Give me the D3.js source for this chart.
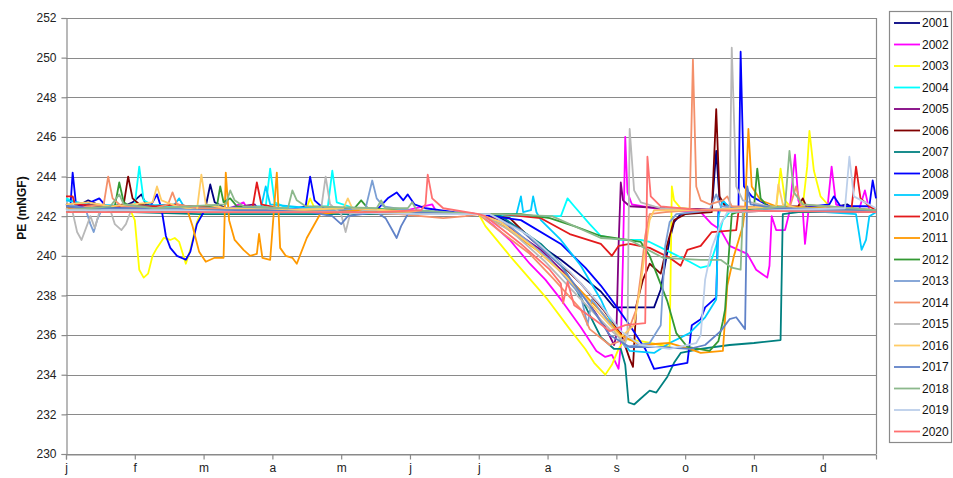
<!DOCTYPE html>
<html>
<head>
<meta charset="utf-8">
<script src="https://cdn.jsdelivr.net/npm/d3@7"></script>
<style>
  html, body { margin: 0; padding: 0; background: #fff; }
  svg { display: block; font-family: "Liberation Sans", Arial, sans-serif; }
</style>
</head>
<body>
<svg id="chart" width="953" height="478"></svg>
<script>
// Daily water level PE (mNGF) by year, as [day of year, level] points.
const monthLabels = ["j", "f", "m", "a", "m", "j", "j", "a", "s", "o", "n", "d"];
const yTicks = [230, 232, 234, 236, 238, 240, 242, 244, 246, 248, 250, 252];
const years = ["2001","2002","2003","2004","2005","2006","2007","2008","2009","2010",
               "2011","2012","2013","2014","2015","2016","2017","2018","2019","2020"];
const palette = ["#000080","#ff00ff","#ffff00","#00ffff","#800080","#800000","#008080","#0000ff","#00ccff","#e31a1c",
                 "#ff9900","#339933","#7b9fd4","#f4906a","#b8b8b8","#ffcc66","#6082c8","#8cb88c","#bccfea","#ff7070"];

const pe2001 = [[0,242.6],[5,242.5],[10,242.8],[14,242.6],[20,242.5],[26,242.5],[30,242.7],[34,243.1],[36,242.6],[45,242.4],[55,242.4],[63,242.5],[65,243.6],[67,242.7],[72,242.4],[90,242.3],[110,242.3],[130,242.2],[150,242.2],[170,242.1],[186,242.1],[196,241.9],[205,241.3],[214,240.5],[223,239.8],[232,239.0],[241,238.2],[247,237.4],[256,237.4],[265,237.4],[268,238.3],[270,239.6],[272,240.8],[274,241.7],[277,242.1],[285,242.2],[291,242.3],[293,245.3],[294.5,242.8],[300,242.4],[320,242.3],[340,242.3],[352,242.6],[356,242.3],[365,242.2]];
const pe2002 = [[0,242.4],[10,242.3],[20,242.5],[30,242.3],[50,242.3],[70,242.2],[80,242.7],[82,242.3],[100,242.2],[130,242.2],[150,242.2],[165,242.6],[167,242.2],[186,242.1],[192,241.6],[200,240.8],[209,239.6],[216,238.8],[223,237.8],[232,236.4],[239,235.2],[243,234.9],[246,235.0],[249,234.3],[250,235.5],[251,240.0],[252,246.0],[253,243.2],[255,242.6],[270,242.3],[286,242.2],[291,241.6],[295,241.3],[299,240.5],[307,240.1],[311,239.3],[316,238.9],[317,239.5],[318,242.0],[320,241.3],[324,241.3],[326,242.2],[328.5,245.1],[330,242.8],[332,242.3],[333,240.6],[334.5,242.2],[343,242.3],[345,244.5],[347,242.6],[357,242.2],[360,243.3],[362,242.3],[365,242.2]];
const pe2003 = [[0,242.5],[10,242.4],[20,242.4],[29,242.3],[31,241.8],[33,239.3],[35,238.9],[37,239.1],[39,240.0],[41,240.4],[44,240.9],[47,240.8],[49,240.9],[51,240.7],[54,239.6],[56,240.3],[59,241.7],[61,242.2],[63,242.4],[80,242.3],[100,242.3],[108,242.3],[110,242.9],[112,242.4],[130,242.2],[150,242.2],[165,242.1],[186,242.1],[189,241.5],[200,240.0],[217,237.8],[227,236.3],[234,235.3],[238,234.6],[243,234.0],[246,234.5],[249,235.3],[252,235.8],[259,235.7],[268,235.5],[272,235.4],[273,243.5],[274,242.8],[277,242.4],[290,242.3],[310,242.3],[320,242.4],[322,244.4],[324,242.8],[327,242.4],[332,242.5],[334,244.5],[335,246.3],[337,244.3],[340,243.0],[344,242.5],[365,242.3]];
const pe2004 = [[0,242.9],[5,242.7],[15,242.5],[25,242.5],[31,242.6],[33,244.5],[35,242.8],[40,242.5],[60,242.4],[80,242.4],[90,242.5],[92,244.4],[94,242.7],[100,242.4],[118,242.5],[120,244.3],[122,242.7],[130,242.4],[150,242.3],[170,242.2],[186,242.1],[205,242.0],[223,242.0],[226,242.9],[229,242.5],[236,241.6],[241,241.0],[250,240.8],[259,240.8],[263,240.7],[272,240.2],[281,239.7],[286,239.4],[290,239.5],[293,240.5],[296,241.8],[299,242.2],[320,242.3],[340,242.3],[365,242.2]];
const pe2005 = [[0,242.4],[20,242.3],[40,242.3],[60,242.2],[85,242.6],[87,242.3],[120,242.2],[150,242.2],[186,242.1],[196,241.8],[205,241.0],[214,240.3],[223,239.3],[232,238.2],[243,236.4],[247,235.5],[248,236.0],[249,240.5],[250,243.7],[251,242.8],[254,242.5],[270,242.4],[300,242.3],[330,242.3],[365,242.2]];
const pe2006 = [[0,242.5],[10,242.4],[20,242.5],[26,242.6],[28,244.0],[30,242.9],[33,242.6],[45,242.4],[70,242.3],[100,242.3],[130,242.2],[160,242.2],[186,242.1],[200,241.9],[209,240.9],[221,239.8],[232,238.6],[242,237.3],[250,236.1],[254,234.8],[255.5,234.4],[257,237.5],[260,238.8],[263,239.6],[268,239.1],[271,240.6],[274,241.8],[279,242.1],[291,242.2],[293,247.4],[294.5,243.0],[297,242.5],[310,242.4],[330,242.5],[332,242.9],[334,242.4],[365,242.3]];
const pe2007 = [[0,242.2],[30,242.2],[60,242.1],[100,242.1],[150,242.1],[186,242.1],[196,242.0],[205,241.3],[214,240.6],[223,239.6],[232,237.9],[241,235.9],[247,235.3],[250,235.3],[252,234.5],[253.5,232.6],[256,232.5],[259,232.8],[263,233.2],[266,233.1],[271,233.9],[274,234.6],[277,235.1],[286,235.3],[299,235.5],[310,235.6],[322,235.75],[323,242.1],[330,242.2],[365,242.2]];
const pe2008 = [[0,242.6],[2,242.5],[3,244.2],[4.5,242.6],[8,242.5],[11,242.7],[15,242.9],[18,242.5],[25,242.4],[38,242.5],[41,243.1],[43,242.4],[45,241.0],[47,240.4],[50,240.0],[54,239.8],[56,240.2],[59,241.6],[62,242.2],[80,242.3],[100,242.3],[108,242.5],[110,244.0],[112,242.8],[116,242.4],[140,242.3],[145,242.9],[149,243.2],[152,242.8],[154,243.1],[157,242.6],[162,242.4],[175,242.2],[186,242.1],[205,241.8],[223,240.6],[234,239.4],[241,238.5],[247,237.6],[254,236.5],[261,235.3],[265,234.3],[270,234.4],[280,234.6],[282,236.5],[286,236.8],[288,237.4],[293,237.9],[294,242.3],[301,242.4],[303,242.2],[304,250.3],[305.5,243.5],[309,243.0],[317,242.5],[330,242.4],[344,242.6],[346,243.0],[349,242.5],[362,242.5],[363.5,243.8],[365,242.9]];
const pe2009 = [[0,242.8],[10,242.6],[30,242.5],[49,242.6],[51,242.9],[53,242.5],[70,242.4],[88,242.5],[90,243.5],[92,242.6],[110,242.4],[130,242.3],[160,242.2],[186,242.1],[203,242.1],[205,243.0],[206,242.2],[209.5,242.3],[210.5,243.0],[212,242.2],[214,241.8],[223,240.8],[232,239.5],[241,237.8],[247,236.3],[254,235.2],[265,235.1],[272,235.6],[281,236.1],[288,236.9],[293,237.8],[294,242.0],[296,242.8],[300,242.3],[330,242.3],[356,242.1],[358.5,240.3],[360.5,240.8],[362,242.0],[365,242.2]];
const pe2010 = [[0,243.0],[3,243.0],[4,242.6],[20,242.5],[40,242.5],[50,242.6],[55,242.5],[75,242.4],[84,242.4],[86,243.7],[88,242.6],[100,242.3],[130,242.3],[160,242.2],[186,242.1],[196,242.1],[214,241.9],[227,241.1],[241,240.6],[246,240.0],[249,240.5],[254,240.6],[263,240.4],[272,239.9],[277,239.5],[280,240.3],[286,240.5],[291,241.2],[302,241.3],[303,242.2],[320,242.3],[340,242.3],[354,242.4],[356,244.5],[358,242.9],[362,242.5],[365,242.3]];
const pe2011 = [[0,242.4],[20,242.3],[40,242.3],[55,242.2],[57,241.5],[60,240.2],[63,239.7],[67,239.9],[71,239.9],[72,244.2],[73.5,241.8],[76,240.8],[80,240.3],[83,240.0],[86,240.1],[87,241.1],[88.5,239.9],[92,239.8],[95,244.2],[96.5,240.4],[99,240.0],[102,239.9],[104,239.6],[108.5,240.9],[114.5,242.1],[130,242.3],[150,242.2],[186,242.1],[197,241.5],[212,240.3],[227,238.8],[241,237.2],[250,236.0],[259,235.5],[272,235.6],[281,235.3],[286,235.1],[296,235.2],[298,238.5],[301,240.0],[305,241.5],[306,242.4],[307.5,246.4],[309,243.5],[313,242.8],[320,242.5],[340,242.4],[365,242.3]];
const pe2012 = [[0,242.2],[10,242.3],[20,242.4],[22,242.5],[24,243.7],[26,242.7],[30,242.4],[50,242.4],[60,242.4],[68,242.5],[69.5,243.5],[71,242.7],[74,242.9],[77,242.5],[100,242.3],[120,242.3],[130,242.4],[133,242.8],[136,242.4],[160,242.2],[186,242.1],[205,242.1],[218,241.9],[229,241.5],[241,241.0],[259,240.7],[263,240.0],[271,237.7],[275,236.1],[280,235.4],[290,235.2],[294,235.7],[296,236.7],[297,237.3],[298,239.0],[300,242.1],[305,242.3],[310,242.4],[311.5,244.4],[313,242.9],[316,242.5],[330,242.4],[365,242.3]];
const pe2013 = [[0,242.6],[5,242.5],[9,242.3],[11,241.6],[12.5,241.2],[14,241.8],[16,242.3],[30,242.4],[60,242.4],[90,242.4],[120,242.3],[135,242.4],[138,243.8],[140,242.9],[143,242.5],[160,242.2],[186,242.1],[200,241.5],[218,239.8],[232,238.0],[235,236.5],[237,237.8],[245,236.6],[252,235.4],[263,235.6],[268,236.5],[270,240.5],[272,241.7],[275,242.1],[290,242.3],[293,243.1],[295,242.5],[330,242.3],[365,242.2]];
const pe2014 = [[0,242.3],[10,242.5],[17,242.6],[19,244.0],[21,242.9],[25,242.5],[40,242.4],[46,242.6],[48,243.2],[50,242.6],[60,242.4],[90,242.3],[120,242.2],[150,242.1],[170,241.9],[180,242.0],[186,242.1],[196,241.2],[209,240.1],[220,238.8],[232,237.3],[236,236.3],[245,235.5],[252,235.8],[257,237.3],[259,239.0],[261,241.0],[263,242.1],[270,242.2],[281,242.3],[282.5,249.9],[284,243.5],[286,242.8],[290,242.6],[296,242.8],[298,243.0],[300,242.5],[326,242.4],[329,243.5],[331,242.6],[365,242.3]];
const pe2015 = [[0,242.4],[3,242.2],[5,241.2],[7,240.8],[9,241.4],[11,242.0],[13,241.4],[15,242.2],[20,242.3],[22,241.6],[25,241.3],[27,241.6],[29,242.2],[40,242.3],[70,242.3],[100,242.3],[115,242.4],[117,244.0],[119,242.6],[124,242.1],[126,241.2],[128,242.1],[135,242.3],[160,242.2],[186,242.1],[200,241.3],[216,239.7],[232,237.8],[245,236.3],[252,235.6],[253,236.0],[254,246.4],[256,243.3],[259,242.7],[268,242.4],[286,242.3],[299,242.4],[300,250.5],[302,243.5],[305,242.8],[320,242.4],[365,242.3]];
const pe2016 = [[0,242.6],[10,242.7],[20,242.5],[30,242.6],[39,242.7],[41,243.5],[43,242.8],[50,242.5],[59,242.3],[61,244.1],[63,242.6],[72,242.4],[100,242.3],[125,242.4],[127,242.9],[129,242.4],[160,242.2],[186,242.1],[196,241.7],[210,240.5],[225,239.0],[241,237.0],[250,235.9],[256,236.5],[259,238.6],[261,240.3],[263,241.8],[265,242.3],[290,242.3],[320,242.5],[321,243.6],[323,242.6],[330,242.4],[365,242.3]];
const pe2017 = [[0,242.5],[10,242.4],[30,242.4],[60,242.3],[90,242.3],[110,242.2],[120,242.0],[124,241.6],[127,242.0],[140,242.2],[144,241.9],[147,241.3],[149,240.9],[151,241.5],[154,242.1],[160,242.2],[186,242.1],[191,242.1],[205,241.3],[223,239.5],[236,237.5],[245,236.0],[254,235.4],[268,235.4],[281,235.3],[288,235.5],[295,236.2],[299,236.8],[302,236.9],[306,236.3],[307,243.5],[308.5,242.6],[320,242.4],[365,242.3]];
const pe2018 = [[0,242.3],[10,242.4],[20,242.5],[24,243.1],[26,242.6],[40,242.4],[72,242.6],[74,243.3],[76,242.8],[80,242.5],[100,242.4],[102,243.3],[104,242.8],[108,242.5],[140,242.4],[142,242.8],[144,242.4],[154,242.4],[156,242.7],[158,242.3],[186,242.1],[196,242.1],[219,242.0],[241,240.9],[254,240.8],[269,239.9],[286,239.8],[295,239.8],[300,239.4],[304,239.3],[305,242.2],[315,242.4],[324,242.5],[326,245.3],[328,243.2],[332,242.6],[365,242.3]];
const pe2019 = [[0,242.3],[20,242.3],[50,242.3],[80,242.2],[120,242.2],[160,242.1],[186,242.1],[191,242.1],[209,241.0],[227,239.2],[241,237.5],[250,236.2],[259,235.5],[272,235.3],[284,235.6],[286,236.0],[288,238.8],[291,240.4],[295,241.6],[298,242.2],[320,242.3],[351,242.4],[353,245.0],[355,243.0],[365,242.4]];
const pe2020 = [[0,242.2],[20,242.2],[60,242.2],[100,242.2],[140,242.2],[160,242.3],[162,242.6],[163,244.1],[165,242.9],[170,242.4],[186,242.1],[189,242.0],[205,240.6],[218,239.3],[223,238.6],[224,237.6],[226,238.7],[229,237.5],[238,236.8],[245,236.2],[252,236.5],[261,236.6],[262,245.0],[263.5,243.0],[268,242.5],[286,242.3],[365,242.2]];

const levels = [pe2001, pe2002, pe2003, pe2004, pe2005, pe2006, pe2007, pe2008, pe2009, pe2010,
                pe2011, pe2012, pe2013, pe2014, pe2015, pe2016, pe2017, pe2018, pe2019, pe2020];
const series = years.map((year, i) => ({ year, color: palette[i], values: levels[i] }));

const svg = d3.select("#chart");
const plot = { left: 66, right: 876, top: 18, bottom: 454 };
const grid = "#8a8a8a";

const x = d3.scaleLinear().domain([0, 365]).range([plot.left, plot.right]);
const y = d3.scaleLinear().domain([230, 252]).range([plot.bottom, plot.top]);

// horizontal gridlines
svg.append("g")
  .selectAll("line")
  .data(yTicks)
  .join("line")
  .attr("x1", plot.left).attr("x2", plot.right)
  .attr("y1", d => Math.round(y(d)) + 0.5).attr("y2", d => Math.round(y(d)) + 0.5)
  .attr("stroke", grid).attr("stroke-width", 1.2);

// right border of the plot area
svg.append("line")
  .attr("x1", plot.right + 0.5).attr("x2", plot.right + 0.5)
  .attr("y1", plot.top).attr("y2", plot.bottom)
  .attr("stroke", grid).attr("stroke-width", 1.2);

// y axis
const yAxis = svg.append("g")
  .attr("transform", `translate(${plot.left + 0.5},0)`)
  .call(d3.axisLeft(y).tickValues(yTicks).tickSize(5).tickPadding(5).tickFormat(d3.format("d")));
yAxis.select(".domain").attr("stroke", grid).attr("stroke-width", 1.2);
yAxis.selectAll(".tick line").attr("stroke", grid).attr("stroke-width", 1.2);
yAxis.selectAll("text").attr("font-size", 12).attr("fill", "#222")
  .attr("font-family", "'Liberation Sans', Arial, sans-serif");

// x axis, one tick every 31 days
const xAxis = svg.append("g")
  .attr("transform", `translate(0,${plot.bottom + 0.5})`)
  .call(d3.axisBottom(x)
    .tickValues(d3.range(0, 365, 31))
    .tickSize(5).tickPadding(4)
    .tickFormat((d, i) => monthLabels[i]));
xAxis.select(".domain").attr("stroke", grid).attr("stroke-width", 1.2);
xAxis.selectAll(".tick line").attr("stroke", grid).attr("stroke-width", 1.2);
xAxis.selectAll("text").attr("font-size", 12).attr("fill", "#222")
  .attr("font-family", "'Liberation Sans', Arial, sans-serif");

// y axis title
svg.append("text")
  .attr("transform", "translate(26,208) rotate(-90)")
  .attr("text-anchor", "middle")
  .attr("font-size", 12).attr("font-weight", "bold").attr("fill", "#111")
  .text("PE (mNGF)");

// yearly level lines
const line = d3.line().x(d => x(d[0])).y(d => y(d[1]));
svg.append("g")
  .selectAll("path")
  .data(series)
  .join("path")
  .attr("d", d => line(d.values))
  .attr("fill", "none")
  .attr("stroke", d => d.color)
  .attr("stroke-width", 1.8)
  .attr("stroke-linejoin", "round");

// legend
const legend = svg.append("g");
legend.append("rect")
  .attr("x", 889.5).attr("y", 11.5).attr("width", 62).attr("height", 431)
  .attr("fill", "#fff").attr("stroke", grid).attr("stroke-width", 1.2);
const item = legend.selectAll("g.item")
  .data(series)
  .join("g")
  .attr("class", "item")
  .attr("transform", (d, i) => `translate(0,${23 + i * 21.5})`);
item.append("line")
  .attr("x1", 894).attr("x2", 920)
  .attr("stroke", d => d.color).attr("stroke-width", 1.8);
item.append("text")
  .attr("x", 922).attr("dy", "0.35em")
  .attr("font-size", 12).attr("fill", "#111")
  .text(d => d.year);
</script>
</body>
</html>
